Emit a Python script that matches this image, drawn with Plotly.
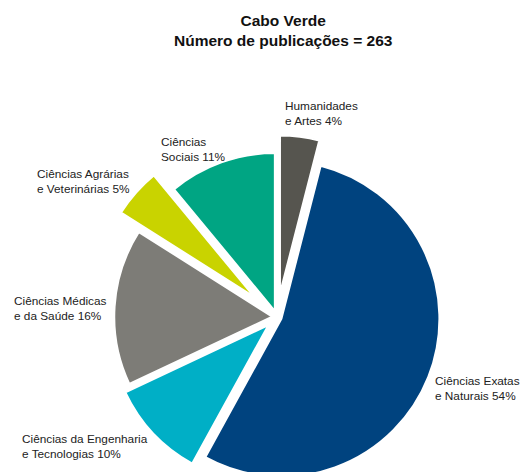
import plotly.graph_objects as go

# Data
categories = ["Humanidades e Artes", "Ciências Exatas e Naturais",
              "Ciências da Engenharia e Tecnologias", "Ciências Médicas e da Saúde",
              "Ciências Agrárias e Veterinárias", "Ciências Sociais"]
label_texts = ["Humanidades<br>e Artes 4%", "Ciências Exatas<br>e Naturais 54%",
               "Ciências da Engenharia<br>e Tecnologias 10%", "Ciências Médicas<br>e da Saúde 16%",
               "Ciências Agrárias<br>e Veterinárias 5%", "Ciências<br>Sociais 11%"]
shares = [4, 54, 10, 16, 5, 11]
title_lines = ["Cabo Verde", "Número de publicações = 263"]

# Style
colors = ["#56554f", "#00437f", "#00afc6", "#7d7c77", "#c9d300", "#00a583"]
pulls = [0.15, 0.03, 0.075, 0.03, 0.19, 0.04]

W, H = 521, 512
cx, cy, R = 277, 317, 158
R0 = R * (1 + max(pulls))

fig = go.Figure(go.Pie(
    labels=categories, values=shares, sort=False, direction="clockwise", rotation=0,
    marker=dict(colors=colors, line=dict(color="white", width=2)),
    pull=pulls, textinfo="none", hoverinfo="label+percent", showlegend=False,
    domain=dict(x=[(cx - R0) / W, (cx + R0) / W],
                y=[max(0.0, 1 - (cy + R0) / H), 1 - (cy - R0) / H]),
))

font_family = "Liberation Sans, Arial, sans-serif"
# label positions (pixels: left x, center y)
label_pos = [(283, 113), (433, 388), (20, 446), (12, 308), (35, 181), (159, 149)]
for txt, (lx, ly) in zip(label_texts, label_pos):
    fig.add_annotation(x=lx / W, y=1 - ly / H, xref="paper", yref="paper", text=txt,
                       showarrow=False, xanchor="left", yanchor="middle", align="left",
                       font=dict(family=font_family, size=11.8, color="#222222"))

fig.add_annotation(x=283 / W, y=1 - 30 / H, xref="paper", yref="paper",
                   text="<b>" + "<br>".join(title_lines) + "</b>",
                   showarrow=False, xanchor="center", yanchor="middle", align="center",
                   font=dict(family=font_family, size=15.5, color="#111111"))

fig.update_layout(width=W, height=H, margin=dict(l=0, r=0, t=0, b=0),
                  paper_bgcolor="white", plot_bgcolor="white")

fig.write_html("out.html", config={"displayModeBar": False},
               post_script="document.body.style.margin='0';document.body.style.overflow='hidden';document.documentElement.style.overflow='hidden';")
